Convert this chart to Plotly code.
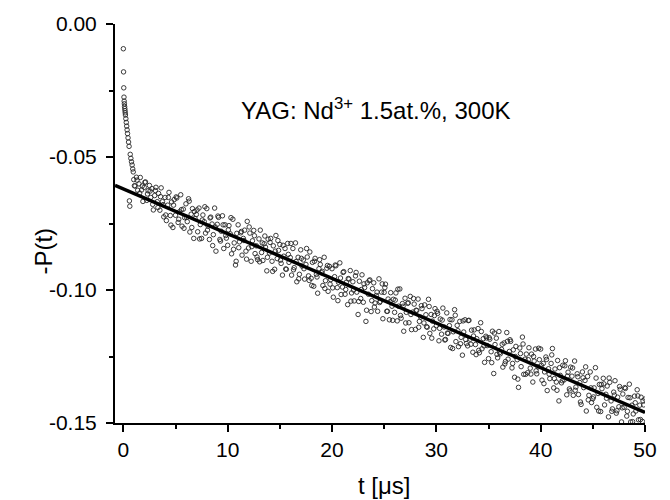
import plotly.graph_objects as go

# ---- data ----
# early fast-decay part (t in microseconds, -P values)
t_early = [0.00, 0.02, 0.04, 0.06, 0.08, 0.10, 0.12, 0.14, 0.16, 0.18, 0.20, 0.24, 0.28,
           0.32, 0.36, 0.40, 0.45, 0.50, 0.55, 0.58, 0.62, 0.66, 0.72, 0.78, 0.84, 0.90, 0.95]
p_early = [-0.0093, -0.0180, -0.0240, -0.0275, -0.0290, -0.0300, -0.0310, -0.0318, -0.0326,
           -0.0334, -0.0342, -0.0356, -0.0370, -0.0384, -0.0398, -0.0412, -0.0428, -0.0444,
           -0.0460, -0.0665, -0.0685, -0.0490, -0.0505, -0.0518, -0.0530, -0.0545, -0.0556]

# main trace, sampled every 0.125 us from t = 1.0 us (one row per microsecond)
T_START = 1.0
T_STEP = 0.125
p_main = [
    -0.0585, -0.0609, -0.0576, -0.0625, -0.0601, -0.0577, -0.0624, -0.0667,
    -0.0614, -0.0594, -0.0663, -0.0627, -0.0607, -0.0652, -0.0619, -0.0699,
    -0.0645, -0.0614, -0.0668, -0.0637, -0.0700, -0.0616, -0.0668, -0.0725,
    -0.0652, -0.0739, -0.0681, -0.0633, -0.0720, -0.0669, -0.0765, -0.0660,
    -0.0719, -0.0654, -0.0746, -0.0706, -0.0642, -0.0760, -0.0696, -0.0728,
    -0.0676, -0.0743, -0.0657, -0.0782, -0.0715, -0.0694, -0.0806, -0.0731,
    -0.0716, -0.0781, -0.0692, -0.0754, -0.0806, -0.0718, -0.0743, -0.0786,
    -0.0694, -0.0760, -0.0810, -0.0726, -0.0752, -0.0792, -0.0692, -0.0854,
    -0.0753, -0.0727, -0.0810, -0.0779, -0.0721, -0.0844, -0.0755, -0.0805,
    -0.0832, -0.0758, -0.0789, -0.0864, -0.0734, -0.0823, -0.0906, -0.0787,
    -0.0755, -0.0819, -0.0785, -0.0869, -0.0806, -0.0775, -0.0854, -0.0742,
    -0.0842, -0.0786, -0.0892, -0.0815, -0.0776, -0.0863, -0.0834, -0.0886,
    -0.0808, -0.0775, -0.0859, -0.0889, -0.0826, -0.0839, -0.0928, -0.0809,
    -0.0861, -0.0806, -0.0892, -0.0834, -0.0922, -0.0795, -0.0882, -0.0851,
    -0.0829, -0.0900, -0.0944, -0.0873, -0.0844, -0.0922, -0.0825, -0.0896,
    -0.0878, -0.0944, -0.0844, -0.0916, -0.0823, -0.0969, -0.0877, -0.0941,
    -0.0849, -0.0910, -0.0887, -0.0959, -0.0904, -0.0876, -0.0947, -0.0857,
    -0.0956, -0.0896, -0.0986, -0.0881, -0.0941, -0.1012, -0.0920, -0.0904,
    -0.0935, -0.0983, -0.0877, -0.0965, -0.0918, -0.1005, -0.0911, -0.0961,
    -0.0920, -0.1027, -0.0950, -0.0909, -0.0991, -0.0971, -0.0898, -0.1017,
    -0.0989, -0.0931, -0.1016, -0.0971, -0.1055, -0.0959, -0.0927, -0.1011,
    -0.0969, -0.1041, -0.0947, -0.1008, -0.1092, -0.0967, -0.1032, -0.0943,
    -0.1046, -0.0991, -0.1118, -0.0973, -0.1016, -0.0962, -0.1081, -0.0995,
    -0.0973, -0.1049, -0.1021, -0.1080, -0.0958, -0.1043, -0.1008, -0.1108,
    -0.1009, -0.0978, -0.1080, -0.1034, -0.1112, -0.1010, -0.1061, -0.1035,
    -0.1084, -0.1011, -0.1116, -0.1061, -0.0996, -0.1106, -0.1051, -0.1155,
    -0.1031, -0.1084, -0.1050, -0.1123, -0.1024, -0.1149, -0.1083, -0.1053,
    -0.1148, -0.1077, -0.1034, -0.1118, -0.1102, -0.1070, -0.1178, -0.1056,
    -0.1093, -0.1140, -0.1035, -0.1163, -0.1092, -0.1117, -0.1146, -0.1070,
    -0.1134, -0.1088, -0.1191, -0.1109, -0.1166, -0.1068, -0.1139, -0.1186,
    -0.1086, -0.1163, -0.1134, -0.1216, -0.1112, -0.1157, -0.1074, -0.1194,
    -0.1133, -0.1213, -0.1118, -0.1178, -0.1245, -0.1158, -0.1112, -0.1201,
    -0.1210, -0.1114, -0.1185, -0.1151, -0.1234, -0.1150, -0.1205, -0.1183,
    -0.1145, -0.1236, -0.1123, -0.1221, -0.1183, -0.1272, -0.1174, -0.1209,
    -0.1258, -0.1185, -0.1232, -0.1155, -0.1314, -0.1205, -0.1181, -0.1255,
    -0.1156, -0.1240, -0.1223, -0.1290, -0.1199, -0.1269, -0.1160, -0.1260,
    -0.1231, -0.1193, -0.1293, -0.1225, -0.1328, -0.1212, -0.1262, -0.1366,
    -0.1218, -0.1288, -0.1177, -0.1317, -0.1260, -0.1241, -0.1311, -0.1217,
    -0.1294, -0.1241, -0.1346, -0.1267, -0.1222, -0.1315, -0.1289, -0.1262,
    -0.1222, -0.1339, -0.1276, -0.1308, -0.1252, -0.1378, -0.1296, -0.1333,
    -0.1276, -0.1220, -0.1368, -0.1297, -0.1346, -0.1265, -0.1417, -0.1321,
    -0.1349, -0.1283, -0.1338, -0.1266, -0.1394, -0.1309, -0.1372, -0.1290,
    -0.1324, -0.1396, -0.1267, -0.1365, -0.1315, -0.1393, -0.1348, -0.1430,
    -0.1308, -0.1367, -0.1340, -0.1455, -0.1325, -0.1396, -0.1308, -0.1423,
    -0.1409, -0.1368, -0.1292, -0.1441, -0.1389, -0.1355, -0.1457, -0.1371,
    -0.1332, -0.1432, -0.1392, -0.1361, -0.1477, -0.1347, -0.1417, -0.1447,
    -0.1384, -0.1341, -0.1463, -0.1403, -0.1439, -0.1373, -0.1496, -0.1391,
    -0.1441, -0.1370, -0.1474, -0.1404, -0.1354, -0.1496, -0.1433, -0.1466,
    -0.1399, -0.1455, -0.1375, -0.1488, -0.1433, -0.1403, -0.1494, -0.1432,
    -0.1410,
]

# interleaved samples, every 0.25 us from t = 1.0625 us (four per microsecond)
T2_START = 1.0625
T2_STEP = 0.25
p_main2 = [
    -0.0608, -0.0587, -0.0636, -0.0609,
    -0.0595, -0.0639, -0.0628, -0.0678,
    -0.0626, -0.0690, -0.0649, -0.0679,
    -0.0718, -0.0652, -0.0756, -0.0681,
    -0.0650, -0.0734, -0.0698, -0.0768,
    -0.0727, -0.0666, -0.0765, -0.0705,
    -0.0699, -0.0808, -0.0737, -0.0687,
    -0.0775, -0.0729, -0.0833, -0.0763,
    -0.0722, -0.0816, -0.0755, -0.0795,
    -0.0774, -0.0728, -0.0847, -0.0892,
    -0.0841, -0.0780, -0.0814, -0.0884,
    -0.0763, -0.0837, -0.0796, -0.0876,
    -0.0894, -0.0823, -0.0797, -0.0877,
    -0.0821, -0.0930, -0.0854, -0.0814,
    -0.0888, -0.0832, -0.0921, -0.0866,
    -0.0825, -0.0924, -0.0893, -0.0958,
    -0.0881, -0.0920, -0.0844, -0.0964,
    -0.0983, -0.0892, -0.0951, -0.0886,
    -0.0930, -0.0994, -0.0908, -0.0978,
    -0.0992, -0.0906, -0.1040, -0.0955,
    -0.0934, -0.0998, -0.0957, -0.1042,
    -0.1000, -0.0934, -0.1043, -0.0998,
    -0.0977, -0.1076, -0.0965, -0.1040,
    -0.1064, -0.1008, -0.1047, -0.0977,
    -0.0991, -0.1080, -0.1044, -0.1114,
    -0.1038, -0.0997, -0.1096, -0.1061,
    -0.1124, -0.1048, -0.1092, -0.1032,
    -0.1076, -0.1140, -0.1059, -0.1124,
    -0.1138, -0.1062, -0.1181, -0.1096,
    -0.1080, -0.1144, -0.1113, -0.1188,
    -0.1162, -0.1111, -0.1220, -0.1095,
    -0.1153, -0.1202, -0.1116, -0.1186,
    -0.1115, -0.1204, -0.1173, -0.1243,
    -0.1227, -0.1156, -0.1210, -0.1180,
    -0.1179, -0.1273, -0.1162, -0.1242,
    -0.1235, -0.1204, -0.1278, -0.1193,
    -0.1187, -0.1276, -0.1250, -0.1335,
    -0.1239, -0.1203, -0.1317, -0.1262,
    -0.1316, -0.1250, -0.1304, -0.1219,
    -0.1283, -0.1352, -0.1261, -0.1316,
    -0.1244, -0.1333, -0.1377, -0.1292,
    -0.1341, -0.1285, -0.1324, -0.1379,
    -0.1293, -0.1377, -0.1326, -0.1421,
    -0.1330, -0.1289, -0.1413, -0.1368,
    -0.1402, -0.1331, -0.1455, -0.1355,
    -0.1353, -0.1407, -0.1331, -0.1456,
    -0.1395, -0.1454, -0.1363, -0.1443,
    -0.1367, -0.1456, -0.1405, -0.1495,
    -0.1424, -0.1398, -0.1487, -0.1417,
]

t_main = [T_START + i * T_STEP for i in range(len(p_main))]
t_main2 = [T2_START + i * T2_STEP for i in range(len(p_main2))]

# fitted straight line (end points)
fit_t = [-0.8, 50.0]
fit_p = [-0.0607, -0.1460]

x_ticks = [0, 10, 20, 30, 40, 50]
y_ticks = [0.00, -0.05, -0.10, -0.15]
y_ticklabels = ["0.00", "-0.05", "-0.10", "-0.15"]

FONT = "Liberation Sans, Arial, Helvetica, sans-serif"

fig = go.Figure()
fig.add_trace(go.Scatter(
    x=t_early + t_main + t_main2, y=p_early + p_main + p_main2, mode="markers",
    marker=dict(symbol="circle-open", size=4.5, color="#262626", line=dict(width=0.9)),
    showlegend=False, hoverinfo="skip"))
fig.add_trace(go.Scatter(
    x=fit_t, y=fit_p, mode="lines",
    line=dict(color="black", width=3.5), showlegend=False))

axis_common = dict(
    showgrid=False, zeroline=False, showline=True, linecolor="black", linewidth=2,
    ticks="outside", ticklen=7, tickwidth=2, tickcolor="black",
    tickfont=dict(family=FONT, size=21, color="black"))

fig.update_xaxes(range=[-0.8, 50], tickvals=x_ticks,
                 minor=dict(ticks="outside", ticklen=4, tickwidth=2, tickcolor="black", dtick=5, tick0=0),
                 **axis_common)
fig.update_yaxes(range=[-0.15, 0.0], tickvals=y_ticks, ticktext=y_ticklabels,
                 ticklabelstandoff=5,
                 minor=dict(ticks="outside", ticklen=4, tickwidth=2, tickcolor="black", dtick=0.025, tick0=0),
                 **axis_common)

fig.add_annotation(x=11.07, y=-0.032, xref="x", yref="y", xanchor="left", yanchor="middle",
                   text="YAG: Nd<sup>3+</sup> 1.5at.%, 300K", showarrow=False,
                   font=dict(family=FONT, size=24, color="black"))
fig.add_annotation(x=-0.134, y=0.432, xref="paper", yref="paper", text="-P(t)", textangle=-90,
                   showarrow=False, xanchor="center", yanchor="middle",
                   font=dict(family=FONT, size=24, color="black"))
fig.add_annotation(x=0.508, y=-0.157, xref="paper", yref="paper", text="t [μs]",
                   showarrow=False, xanchor="center", yanchor="middle",
                   font=dict(family=FONT, size=24, color="black"))

fig.update_layout(
    width=670, height=500,
    margin=dict(l=115, r=25, t=18, b=77),
    paper_bgcolor="white", plot_bgcolor="white",
    font=dict(family=FONT, color="black"))

fig.write_html("out.html", config={"displayModeBar": False},
               post_script="document.body.style.margin='0';document.body.style.overflow='hidden';")
